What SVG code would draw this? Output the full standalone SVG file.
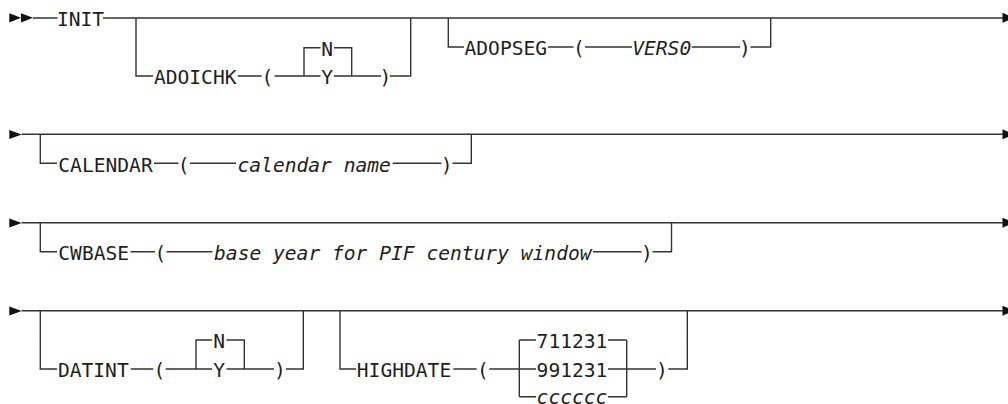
<svg xmlns="http://www.w3.org/2000/svg" width="1008" height="404" viewBox="0 0 1008 404">
  <style>
    .t { font-family: "DejaVu Sans Mono", "Liberation Mono", monospace; font-size: 19.6px; fill: #1e1e1e; text-anchor: middle; }
    .i { font-style: italic; }
    .r { fill: none; stroke: #333; stroke-width: 1.4; }
    .a { fill: #111; }
  </style>
  <rect width="1008" height="404" fill="#fff"/>

  <!-- rails, brackets and arrowheads -->
  <g id="connectors">
    <!-- row 1 -->
    <polygon class="a" points="9.3,13.2 21,17.8 9.3,22.4"/>
    <polygon class="a" points="21,13.2 33,17.8 21,22.4"/>
    <path class="r" d="M33,18 H57.5 M103,18 H1003"/>
    <polygon class="a" points="1002.5,12.8 1014,17.8 1002.5,22.8"/>
    <path class="r" d="M136,18 V76 H153 M237.7,76 H261.7 M274.5,76 H320.5 M304,76 V47.7 H320.5 M334,47.7 H351.7 V76 M334,76 H381 M390,76 H410.7 V18"/>
    <path class="r" d="M448.3,18 V47 H464 M548,47 H573.5 M585,47 H632 M691.7,47 H740 M750.5,47 H770.7 V18"/>

    <!-- row 2 -->
    <polygon class="a" points="9.3,130 21.7,134.5 9.3,139"/>
    <path class="r" d="M21.7,134.3 H1003 M40.3,134.3 V163.3 H57 M154,163.3 H178.5 M190,163.3 H236 M392.7,163.3 H441.5 M452.5,163.3 H471.3 V134.3"/>
    <polygon class="a" points="1002.5,129.3 1014,134.3 1002.5,139.3"/>

    <!-- row 3 -->
    <polygon class="a" points="9.3,218.4 21.7,222.9 9.3,227.4"/>
    <path class="r" d="M21.7,222.7 H1003 M40.3,222.7 V251.7 H57 M130.5,251.7 H155 M166.5,251.7 H212.5 M593,251.7 H641.5 M652.5,251.7 H671.5 V222.7"/>
    <polygon class="a" points="1002.5,217.7 1014,222.7 1002.5,227.7"/>

    <!-- row 4 -->
    <polygon class="a" points="9.3,306.4 21.7,310.9 9.3,315.4"/>
    <path class="r" d="M21.7,310.7 H1003 M40.3,310.7 V369 H57 M130.7,369 H153.3 M165.7,369 H212 M196,369 V340 H212 M226.5,340 H244.3 V369 M226.5,369 H274 M286,369 H303.3 V310.7"/>
    <path class="r" d="M340,310.7 V369 H356 M453.3,369 H476.7 M489.3,369 H536 M519.3,340 V396.7 M519.3,340 H536 M519.3,396.7 H536 M608,340 H626.7 M608,369 H656 M608,396.7 H626.7 M626.7,340 V396.7 M668.3,369 H687.3 V310.7"/>
    <polygon class="a" points="1002.5,305.7 1014,310.7 1002.5,315.7"/>
  </g>

  <!-- row 1 -->
  <g id="init"><text class="t" x="80.5" y="26">INIT</text></g>
  <g id="adoichk">
    <text class="t" x="195.2" y="84">ADOICHK</text>
    <text class="t" x="267.5" y="84">(</text>
    <text class="t" x="327.2" y="55.5">N</text>
    <text class="t" x="327.2" y="84">Y</text>
    <text class="t" x="385.5" y="84">)</text>
  </g>
  <g id="adopseg">
    <text class="t" x="505.8" y="55">ADOPSEG</text>
    <text class="t" x="578.8" y="55">(</text>
    <text class="t i" x="661.7" y="55">VERS0</text>
    <text class="t" x="745" y="55">)</text>
  </g>

  <!-- row 2 -->
  <g id="calendar">
    <text class="t" x="105.5" y="171.5">CALENDAR</text>
    <text class="t" x="183.7" y="171.5">(</text>
    <text class="t i" x="314.2" y="171.5">calendar name</text>
    <text class="t" x="446.7" y="171.5">)</text>
  </g>

  <!-- row 3 -->
  <g id="cwbase">
    <text class="t" x="93.7" y="260">CWBASE</text>
    <text class="t" x="160.5" y="260">(</text>
    <text class="t i" x="402.8" y="260">base year for PIF century window</text>
    <text class="t" x="647" y="260">)</text>
  </g>

  <!-- row 4 -->
  <g id="datint">
    <text class="t" x="93.3" y="377">DATINT</text>
    <text class="t" x="159.5" y="377">(</text>
    <text class="t" x="219.2" y="348">N</text>
    <text class="t" x="219.2" y="377">Y</text>
    <text class="t" x="280" y="377">)</text>
  </g>
  <g id="highdate">
    <text class="t" x="404" y="377">HIGHDATE</text>
    <text class="t" x="483" y="377">(</text>
    <text class="t" x="572" y="348">711231</text>
    <text class="t" x="572" y="377">991231</text>
    <text class="t i" x="572" y="404">cccccc</text>
    <text class="t" x="662" y="377">)</text>
  </g>
</svg>
